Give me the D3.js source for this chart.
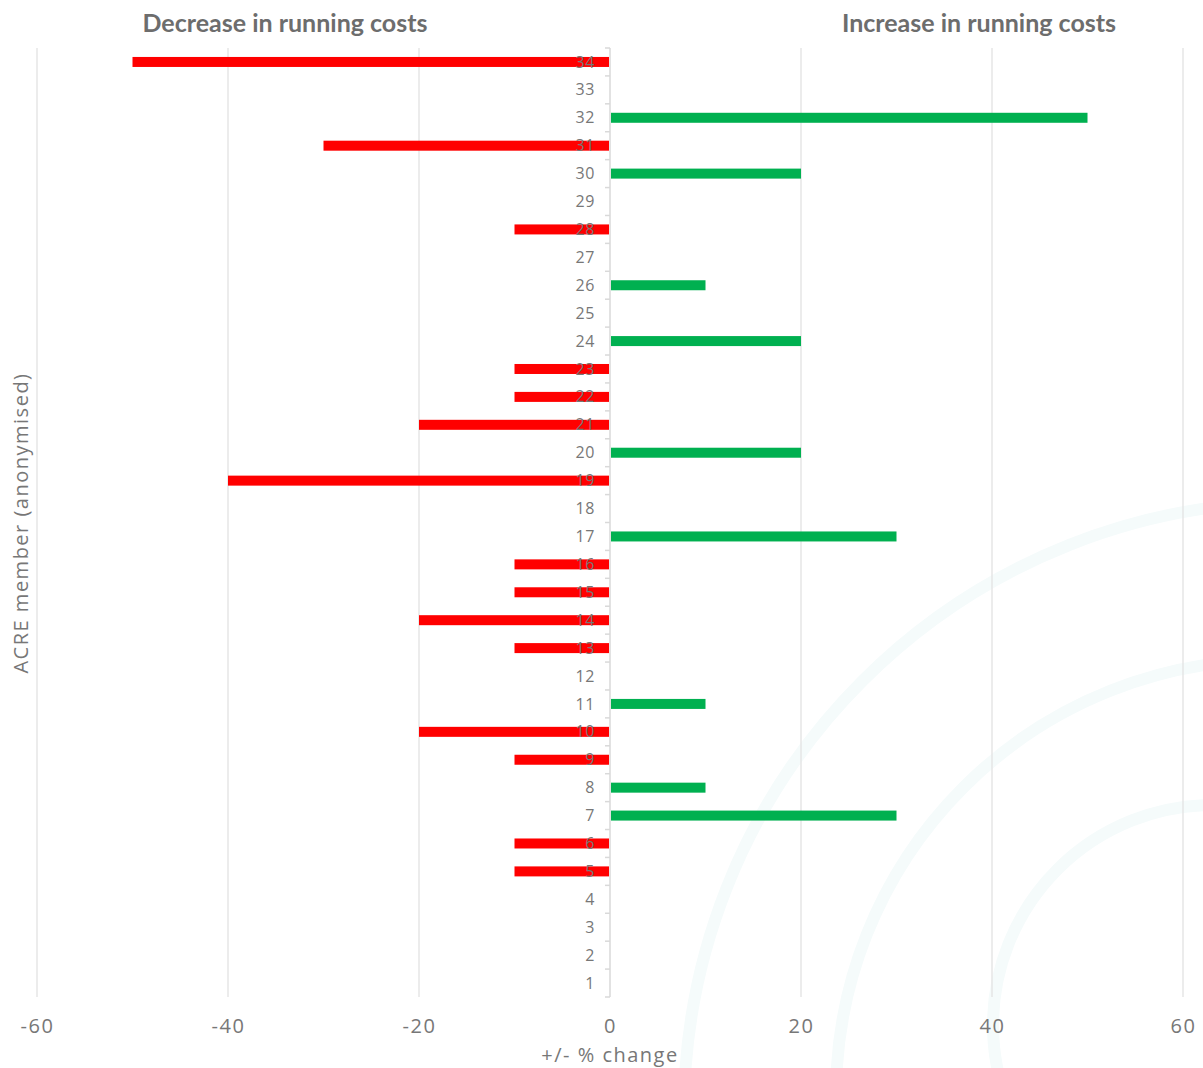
<!DOCTYPE html>
<html>
<head>
<meta charset="utf-8">
<script src="https://cdn.jsdelivr.net/npm/d3@7"></script>
<style>
  html, body { margin: 0; padding: 0; background: #ffffff; }
  svg { display: block; }
</style>
</head>
<body>
<div id="chart"></div>
<script>
// ACRE members, listed top to bottom
const members = ["34","33","32","31","30","29","28","27","26","25","24","23","22","21","20","19","18",
                 "17","16","15","14","13","12","11","10","9","8","7","6","5","4","3","2","1"];
// Change in running costs (%), same order as members
const changes = [-50, 0, 50, -30, 20, 0, -10, 0, 10, 0, 20, -10, -10, -20, 20, -40, 0,
                 30, -10, -10, -20, -10, 0, 10, -20, -10, 10, 30, -10, -10, 0, 0, 0, 0];
const xTicks = [-60, -40, -20, 0, 20, 40, 60];
const headings = ["Decrease in running costs", "Increase in running costs"];
const xTitle = "+/- % change";
const yTitle = "ACRE member (anonymised)";

const W = 1203, H = 1068;
const plot = { left: 37, right: 1183, top: 48, bottom: 997 };

const svg = d3.select("#chart").append("svg")
  .attr("width", W).attr("height", H);

// faint decorative rings in the lower right
const rings = [
  { cx: 1294, cy: 1112, r: 610 },
  { cx: 1271, cy: 1095, r: 435 },
  { cx: 1213, cy: 1025, r: 220 }
];
svg.append("g").selectAll("circle").data(rings).join("circle")
  .attr("cx", d => d.cx).attr("cy", d => d.cy).attr("r", d => d.r)
  .attr("fill", "none").attr("stroke", "#f5fbfb").attr("stroke-width", 12);

const x = d3.scaleLinear().domain([-60, 60]).range([plot.left, plot.right]);
const y = d3.scaleBand().domain(members).range([plot.top, plot.bottom]).paddingInner(0).paddingOuter(0);
const barH = 10;

// vertical gridlines
svg.append("g").selectAll("line").data(xTicks.filter(t => t !== 0)).join("line")
  .attr("x1", d => x(d)).attr("x2", d => x(d))
  .attr("y1", plot.top).attr("y2", plot.bottom)
  .attr("stroke", "#e2e2e2").attr("stroke-width", 1.3);

// bars
const data = members.map((m, i) => ({ m, v: changes[i] }));
svg.append("g").selectAll("rect").data(data.filter(d => d.v !== 0)).join("rect")
  .attr("x", d => d.v < 0 ? x(d.v) : x(0) + 1)
  .attr("width", d => d.v < 0 ? x(0) - x(d.v) - 1 : x(d.v) - x(0) - 1)
  .attr("y", d => y(d.m) + y.bandwidth() / 2 - barH / 2)
  .attr("height", barH)
  .attr("fill", d => d.v < 0 ? "#ff0000" : "#00b050");

// category axis at zero with ticks between members
const axisG = svg.append("g");
axisG.append("line")
  .attr("x1", x(0)).attr("x2", x(0))
  .attr("y1", plot.top).attr("y2", plot.bottom)
  .attr("stroke", "#d9d9d9").attr("stroke-width", 1.5);
const bounds = members.map(m => y(m)).concat([plot.bottom]);
axisG.selectAll("line.tick").data(bounds).join("line")
  .attr("class", "tick")
  .attr("x1", x(0) - 5).attr("x2", x(0))
  .attr("y1", d => d).attr("y2", d => d)
  .attr("stroke", "#d9d9d9").attr("stroke-width", 1.5);
axisG.selectAll("text").data(members).join("text")
  .attr("x", x(0) - 15)
  .attr("y", d => y(d) + y.bandwidth() / 2)
  .attr("dy", "0.35em")
  .attr("text-anchor", "end")
  .attr("font-family", "'Open Sans', sans-serif")
  .attr("font-size", 16)
  .attr("letter-spacing", 0.6)
  .attr("fill", "#777777")
  .text(d => d);

// value axis labels
const xAxis = d3.axisBottom(x).tickValues(xTicks).tickSize(0).tickPadding(0).tickFormat(d => String(d));
const xg = svg.append("g").attr("transform", `translate(0,${plot.bottom})`).call(xAxis);
xg.select(".domain").remove();
xg.selectAll("text")
  .attr("y", 36).attr("dy", 0)
  .attr("font-family", "'Open Sans', sans-serif")
  .attr("font-size", 20)
  .attr("letter-spacing", 1.5)
  .attr("fill", "#777777");

svg.append("text")
  .attr("x", x(0)).attr("y", 1062)
  .attr("text-anchor", "middle")
  .attr("font-family", "'Open Sans', sans-serif")
  .attr("font-size", 20).attr("letter-spacing", 1.5)
  .attr("fill", "#777777")
  .text(xTitle);

svg.append("text")
  .attr("transform", "translate(28,523) rotate(-90)")
  .attr("text-anchor", "middle")
  .attr("font-family", "'Open Sans', sans-serif")
  .attr("font-size", 20).attr("letter-spacing", 1.5)
  .attr("fill", "#777777")
  .text(yTitle);

// headings above each side
svg.selectAll("text.heading").data(headings).join("text")
  .attr("class", "heading")
  .attr("x", (d, i) => i === 0 ? 285 : 979)
  .attr("y", 32)
  .attr("text-anchor", "middle")
  .attr("font-family", "Lato, sans-serif")
  .attr("font-weight", "bold")
  .attr("font-size", 25)
  .attr("fill", "#6d6d6d")
  .text(d => d);
</script>
</body>
</html>
